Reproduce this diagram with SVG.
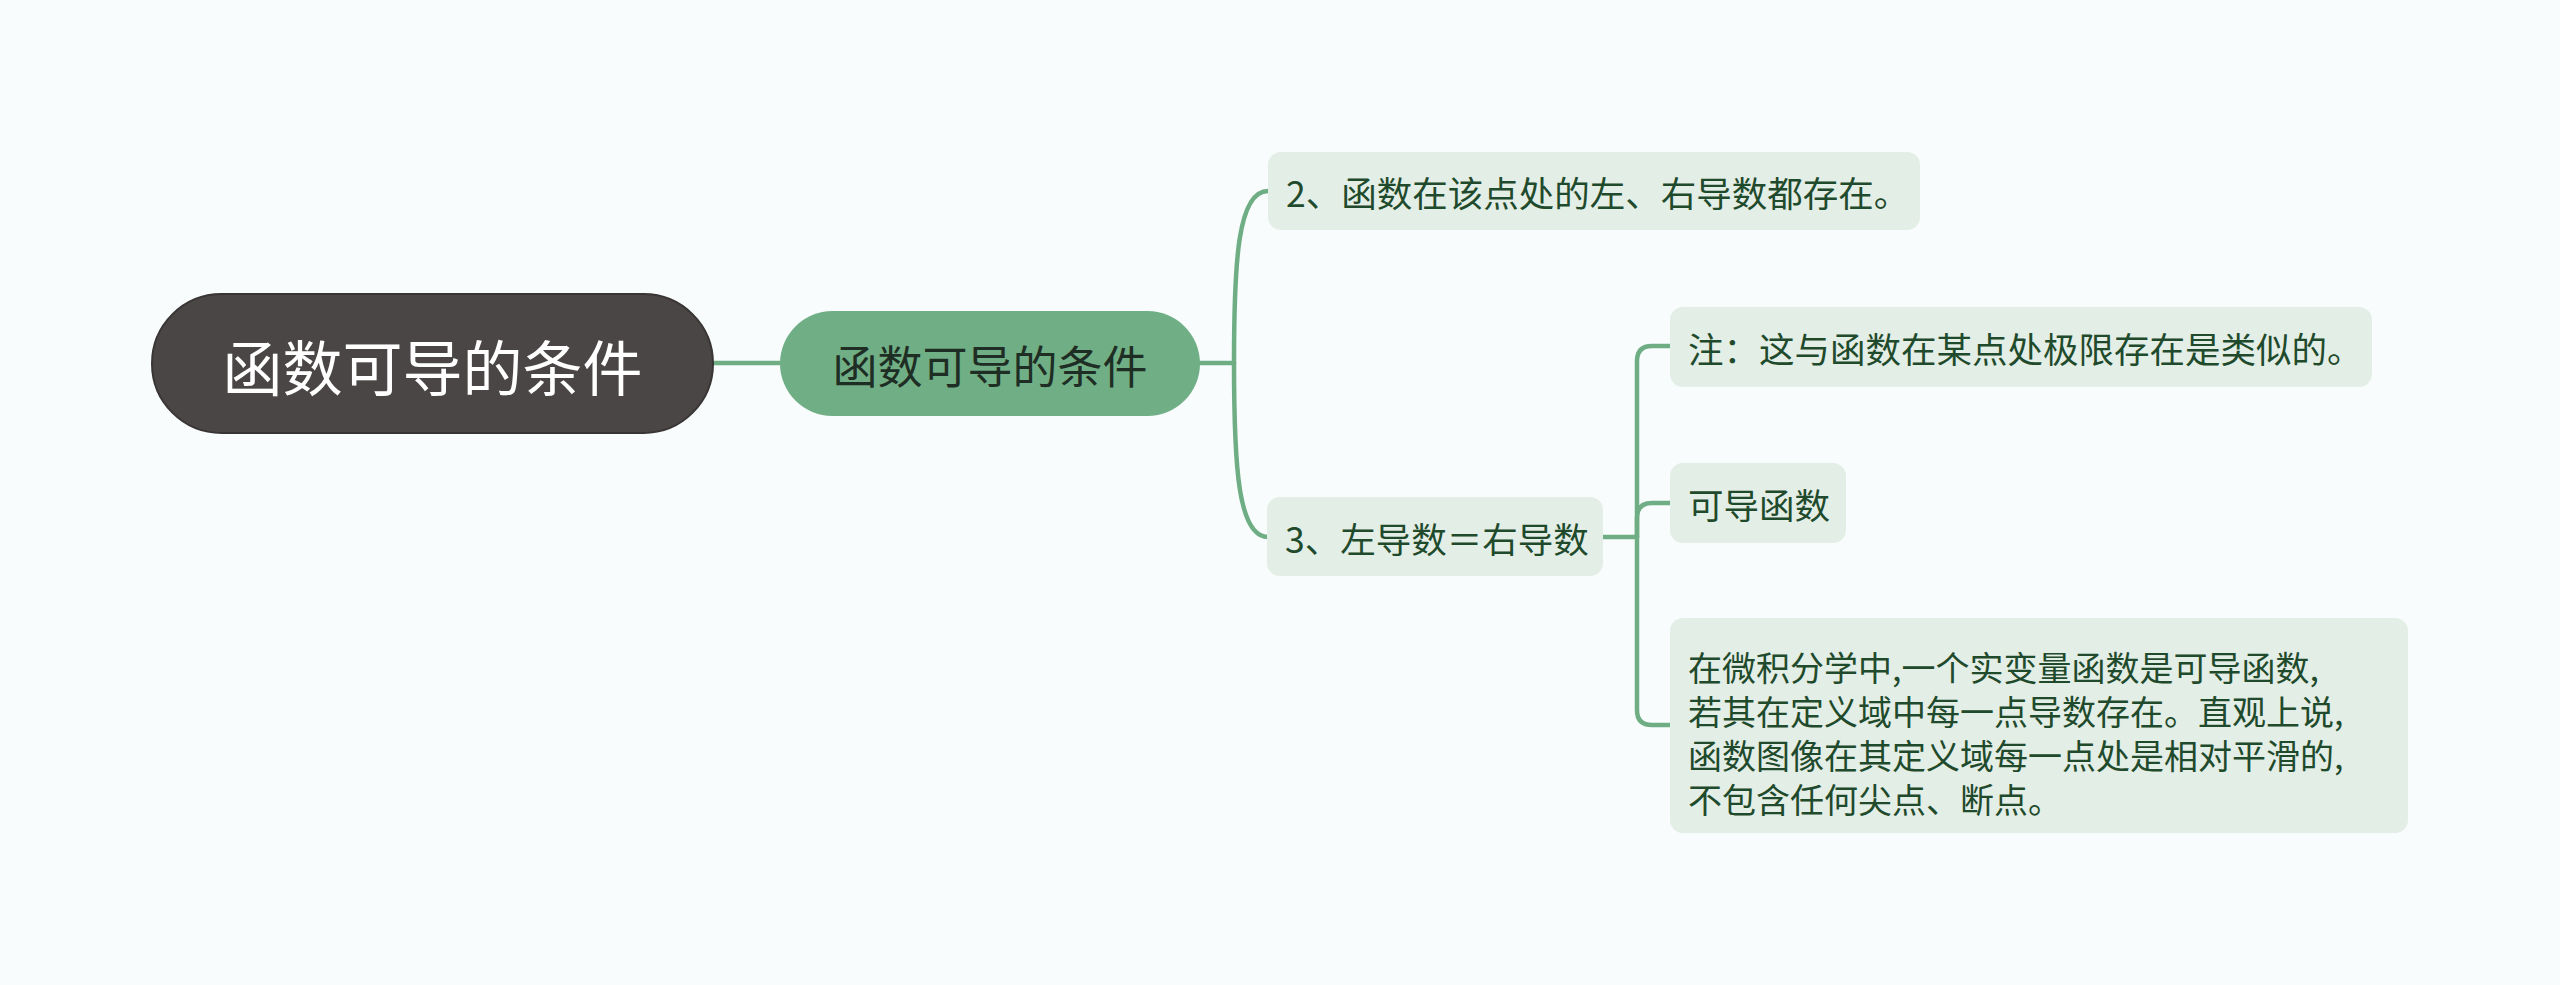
<svg xmlns="http://www.w3.org/2000/svg" width="2560" height="985" viewBox="0 0 2560 985">
<style>
.bg{fill:#f8fcfc}
.lnk{fill:none;stroke:#6fae85;stroke-width:4.5;stroke-linecap:round}
.sub{fill:#e3eee6}
.t{font-family:"Noto Sans CJK SC","Noto Sans",sans-serif;dominant-baseline:central}
.ts{font-size:35.5px;fill:#1f4a2c}
.tb{font-size:34px;fill:#1f4a2c}
</style>
<rect class="bg" x="0" y="0" width="2560" height="985"/>
<g id="connectors">
<path class="lnk" d="M713,363 H780"/>
<path class="lnk" d="M1200,363 H1234"/>
<path class="lnk" d="M1234,363 C1234,260 1238,191 1268,191"/>
<path class="lnk" d="M1234,363 C1234,466 1238,537 1268,537"/>
<path class="lnk" d="M1603,537 H1637"/>
<path class="lnk" d="M1637,537 V361 Q1637,346 1652,346 H1671"/>
<path class="lnk" d="M1637,537 V518 Q1637,503 1652,503 H1671"/>
<path class="lnk" d="M1637,537 V710 Q1637,725 1652,725 H1671"/>
</g>
<g id="root">
<rect x="152" y="294" width="561" height="139" rx="69.5" fill="#4b4646" stroke="#3a3535" stroke-width="2"/>
<text class="t" x="432.5" y="364" text-anchor="middle" font-size="60" fill="#ffffff">函数可导的条件</text>
</g>
<g id="main">
<rect x="780" y="311" width="420" height="105" rx="52.5" fill="#70ae85"/>
<text class="t" x="990" y="364" text-anchor="middle" font-size="45" fill="#1f2e24">函数可导的条件</text>
</g>
<g id="n2">
<rect class="sub" x="1268" y="152" width="652" height="78" rx="13"/>
<text class="t ts" x="1286" y="191">2、函数在该点处的左、右导数都存在。</text>
</g>
<g id="n3">
<rect class="sub" x="1267" y="497" width="336" height="79" rx="13"/>
<text class="t ts" x="1285" y="537">3、左导数＝右导数</text>
</g>
<g id="n3a">
<rect class="sub" x="1670" y="307" width="702" height="80" rx="13"/>
<text class="t ts" x="1688" y="347">注：这与函数在某点处极限存在是类似的。</text>
</g>
<g id="n3b">
<rect class="sub" x="1670" y="463" width="176" height="80" rx="13"/>
<text class="t ts" x="1688" y="503">可导函数</text>
</g>
<g id="n3c">
<rect class="sub" x="1670" y="618" width="738" height="215" rx="13"/>
<text class="t tb" x="1688" y="666">在微积分学中,一个实变量函数是可导函数,</text>
<text class="t tb" x="1688" y="710">若其在定义域中每一点导数存在。直观上说,</text>
<text class="t tb" x="1688" y="754">函数图像在其定义域每一点处是相对平滑的,</text>
<text class="t tb" x="1688" y="798">不包含任何尖点、断点。</text>
</g>
</svg>
